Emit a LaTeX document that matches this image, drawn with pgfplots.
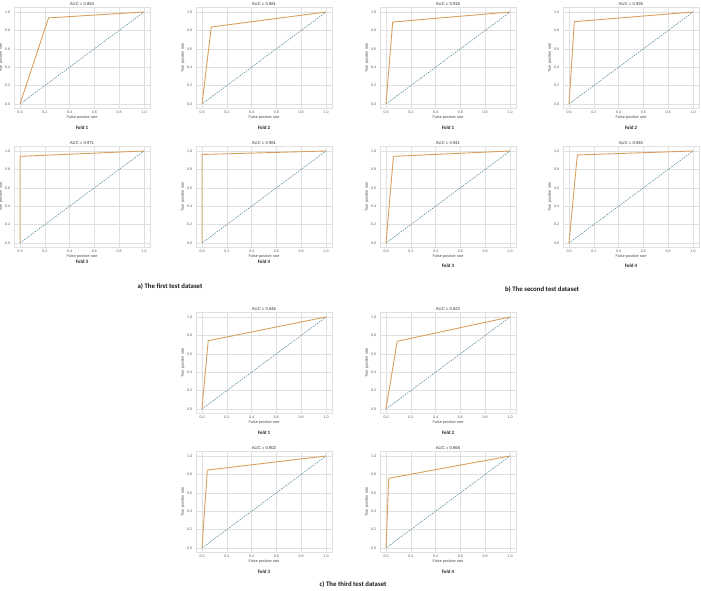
\documentclass[border=0pt]{standalone}
\usepackage{pgfplots}
\pgfplotsset{compat=1.18}
\usepackage{fontspec}
\setmainfont{Liberation Sans}
\newfontfamily\carlito{Carlito}
\definecolor{roc}{RGB}{216,160,92}
\definecolor{diag}{RGB}{62,120,145}
\definecolor{gridc}{RGB}{224,224,224}
\pgfplotsset{
  rocax/.style={
    anchor=south west, clip=false,
    scale only axis, width=136.4pt, height=101.2pt,
    xmin=-0.05, xmax=1.05, ymin=-0.05, ymax=1.05,
    xtick={0,0.2,0.4,0.6,0.8,1}, ytick={0,0.2,0.4,0.6,0.8,1},
    xticklabels={0.0,0.2,0.4,0.6,0.8,1.0},
    yticklabels={0.0,0.2,0.4,0.6,0.8,1.0},
    major tick length=0pt, tick style={draw=none},
    tick label style={font=\fontsize{3.6}{4}\selectfont, text=black!65},
    xticklabel style={inner sep=0pt, yshift=-2.6pt},
    yticklabel style={inner sep=0pt, xshift=-3.5pt},
    grid=major, major grid style={gridc, line width=0.5pt},
    axis line style={gridc, line width=0.6pt},
    xlabel={False positive rate}, ylabel={True positive rate},
    xlabel style={at={(axis description cs:0.5,-0.085)}, anchor=center, font=\fontsize{3.8}{4}\selectfont, text=black!70},
    ylabel style={at={(axis description cs:-0.095,0.5)}, anchor=center, font=\fontsize{3.8}{4}\selectfont, text=black!70},
  },
  rocline/.style={roc, line width=0.9pt},
  diagline/.style={diag, line width=0.45pt, dash pattern=on 1.6pt off 1pt},
}
\newcommand{\foldlabel}[2]{\node[font=\carlito\bfseries\fontsize{5}{6}\selectfont, text=black!85] at (axis description cs:0.5,#1) {#2};}
\newcommand{\auctitle}[1]{\node[inner sep=0pt, font=\fontsize{4.2}{5}\selectfont, text=black!80] at (axis description cs:0.5,1.036) {AUC = #1};}
\begin{document}
\begin{tikzpicture}
\useasboundingbox (0pt,0pt) rectangle (701pt,590pt);
% ---------- a) first test dataset
\begin{axis}[rocax, at={(13.8pt,481.4pt)}]
\addplot[diagline] coordinates {(0,0) (1,1)};
\addplot[rocline] coordinates {(0,0) (0.23,0.936) (1,1)};
\auctitle{0.853}
\foldlabel{-0.185}{Fold 1}
\end{axis}
\begin{axis}[rocax, at={(195.8pt,481.4pt)}]
\addplot[diagline] coordinates {(0,0) (1,1)};
\addplot[rocline] coordinates {(0,0) (0.075,0.837) (1,1)};
\auctitle{0.881}
\foldlabel{-0.185}{Fold 2}
\end{axis}
\begin{axis}[rocax, at={(13.8pt,342.4pt)}]
\addplot[diagline] coordinates {(0,0) (1,1)};
\addplot[rocline] coordinates {(0,0) (0.0,0.942) (1,1)};
\auctitle{0.971}
\foldlabel{-0.14}{Fold 3}
\end{axis}
\begin{axis}[rocax, at={(195.8pt,342.4pt)}]
\addplot[diagline] coordinates {(0,0) (1,1)};
\addplot[rocline] coordinates {(0,0) (0.0,0.962) (1,1)};
\auctitle{0.981}
\foldlabel{-0.14}{Fold 4}
\end{axis}
% ---------- b) second test dataset
\begin{axis}[rocax, at={(379.8pt,481.4pt)}]
\addplot[diagline] coordinates {(0,0) (1,1)};
\addplot[rocline] coordinates {(0,0) (0.054,0.891) (1,1)};
\auctitle{0.918}
\foldlabel{-0.185}{Fold 1}
\end{axis}
\begin{axis}[rocax, at={(562.8pt,481.4pt)}]
\addplot[diagline] coordinates {(0,0) (1,1)};
\addplot[rocline] coordinates {(0,0) (0.043,0.895) (1,1)};
\auctitle{0.926}
\foldlabel{-0.185}{Fold 2}
\end{axis}
\begin{axis}[rocax, at={(379.8pt,342.4pt)}]
\addplot[diagline] coordinates {(0,0) (1,1)};
\addplot[rocline] coordinates {(0,0) (0.06,0.942) (1,1)};
\auctitle{0.941}
\foldlabel{-0.18}{Fold 3}
\end{axis}
\begin{axis}[rocax, at={(562.8pt,342.4pt)}]
\addplot[diagline] coordinates {(0,0) (1,1)};
\addplot[rocline] coordinates {(0,0) (0.067,0.957) (1,1)};
\auctitle{0.945}
\foldlabel{-0.18}{Fold 4}
\end{axis}
% ---------- c) third test dataset
\begin{axis}[rocax, at={(195.8pt,176.4pt)}]
\addplot[diagline] coordinates {(0,0) (1,1)};
\addplot[rocline] coordinates {(0,0) (0.05,0.742) (1,1)};
\auctitle{0.846}
\foldlabel{-0.19}{Fold 1}
\end{axis}
\begin{axis}[rocax, at={(379.8pt,176.4pt)}]
\addplot[diagline] coordinates {(0,0) (1,1)};
\addplot[rocline] coordinates {(0,0) (0.09,0.736) (1,1)};
\auctitle{0.823}
\foldlabel{-0.19}{Fold 2}
\end{axis}
\begin{axis}[rocax, at={(195.8pt,37.4pt)}]
\addplot[diagline] coordinates {(0,0) (1,1)};
\addplot[rocline] coordinates {(0,0) (0.043,0.847) (1,1)};
\auctitle{0.902}
\foldlabel{-0.19}{Fold 3}
\end{axis}
\begin{axis}[rocax, at={(379.8pt,37.4pt)}]
\addplot[diagline] coordinates {(0,0) (1,1)};
\addplot[rocline] coordinates {(0,0) (0.022,0.758) (1,1)};
\auctitle{0.868}
\foldlabel{-0.19}{Fold 4}
\end{axis}
% ---------- group captions
\node[font=\carlito\bfseries\fontsize{6.8}{8}\selectfont, text=black!90] at (170pt,304pt) {a) The first test dataset};
\node[font=\carlito\bfseries\fontsize{6.8}{8}\selectfont, text=black!90] at (542pt,301pt) {b) The second test dataset};
\node[font=\carlito\bfseries\fontsize{6.8}{8}\selectfont, text=black!90] at (353pt,6pt) {c) The third test dataset};
\end{tikzpicture}
\end{document}
